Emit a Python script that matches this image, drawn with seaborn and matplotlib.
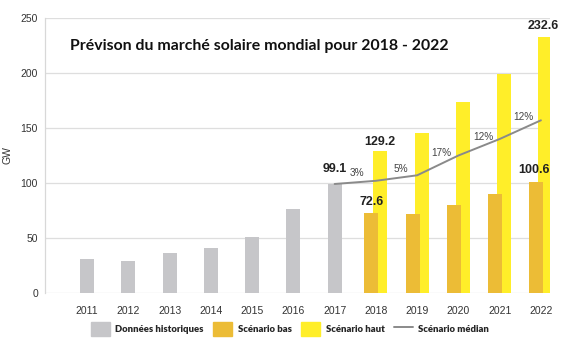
import numpy as np
import pandas as pd
import matplotlib
matplotlib.use("Agg")
import matplotlib.pyplot as plt
import seaborn as sns
from matplotlib.patches import Patch
from matplotlib.lines import Line2D

# ---- data ----
hist_years = [2011, 2012, 2013, 2014, 2015, 2016, 2017]
hist_values = [31, 29, 36.5, 41, 51, 76, 99.1]
fc_years = [2018, 2019, 2020, 2021, 2022]
low_values = [72.6, 72, 80, 90, 100.6]
high_values = [129.2, 145.5, 174, 199, 232.6]
med_years = [2017, 2018, 2019, 2020, 2021, 2022]
med_values = [99.1, 102, 107, 125, 140, 157]
growth_labels = ["3%", "5%", "17%", "12%", "12%"]
growth_y = [109, 113, 127, 142, 160]
all_years = hist_years + fc_years
title = "Prévison du marché solaire mondial pour 2018 - 2022"
legend_labels = ["Données historiques", "Scénario bas", "Scénario haut", "Scénario médian"]

c_gray = "#C6C6C9"
c_low = "#ECBC36"
c_high = "#FFEE29"
c_line = "#8A8A8A"

sns.set_theme(style="white")
plt.rcParams["font.family"] = ["Liberation Sans", "DejaVu Sans"]

fig = plt.figure(figsize=(5.8, 3.49), dpi=100)
ax = fig.add_axes([45/580, 1-293/349, 505/580, 275/349])

off = 0.11
w = 0.34
hist_df = pd.DataFrame({"year": hist_years, "v": hist_values})
high_df = pd.DataFrame({"x": np.array(fc_years) + off, "v": high_values})
low_df = pd.DataFrame({"x": np.array(fc_years) - off, "v": low_values})
med_df = pd.DataFrame({"year": med_years, "v": med_values})

bar_kw = dict(native_scale=True, width=w, saturation=1, ax=ax, linewidth=0, edgecolor="none")
sns.barplot(data=hist_df, x="year", y="v", color=c_gray, zorder=3, **bar_kw)
sns.barplot(data=high_df, x="x", y="v", color=c_high, zorder=3, **bar_kw)
sns.barplot(data=low_df, x="x", y="v", color=c_low, zorder=4, **bar_kw)
sns.lineplot(data=med_df, x="year", y="v", color=c_line, lw=1.4, ax=ax, zorder=5)

ax.set_xlim(2011 - 1.02, 2022.22)
ax.set_ylim(0, 250)
ax.set_xticks(all_years)
ax.set_xticklabels([str(y) for y in all_years], fontsize=7.5, color="#333333")
ax.set_yticks([0, 50, 100, 150, 200, 250])
ax.set_yticklabels(["0", "50", "100", "150", "200", "250"], fontsize=7.5, color="#333333")
ax.tick_params(axis="x", length=0, pad=9)
ax.tick_params(axis="y", length=0, pad=5)
ax.set_xlabel("")
ax.set_ylabel("GW", fontsize=7.5, color="#333333", labelpad=6)
ax.grid(axis="y", color="#DEDEDE", lw=0.9, zorder=0)
for s in ["top", "right", "bottom"]:
    ax.spines[s].set_visible(False)
ax.spines["left"].set_color("#D8D8D8")
ax.spines["left"].set_linewidth(0.9)

# value labels
bold = dict(fontsize=9, fontweight="bold", color="#222222", ha="center", va="bottom")
ax.text(2017.0, 107, "99.1", **bold)
ax.text(2018.1, 132, "129.2", **bold)
ax.text(2017.9, 77, "72.6", **bold)
ax.text(2021.83, 106, "100.6", **bold)
ax.text(2022.05, 237, "232.6", **bold)

growth_x = [2017.53, 2018.6, 2019.58, 2020.6, 2021.58]
for lab, gx, gy in zip(growth_labels, growth_x, growth_y):
    ax.text(gx, gy, lab, fontsize=7.2, color="#444444", ha="center", va="center")

ax.text(0.424, 0.898, title, transform=ax.transAxes, fontsize=11.4, fontweight="bold",
        family=["Lato", "DejaVu Sans"], color="#111111", ha="center", va="center")

handles = [Patch(color=c_gray), Patch(color=c_low), Patch(color=c_high),
           Line2D([0], [0], color=c_line, lw=1.4)]
leg = fig.legend(handles, legend_labels, loc="center", bbox_to_anchor=(290/580, 1-329/349),
                 ncol=4, frameon=False, handlelength=2.0, handleheight=2.0, handletextpad=0.6,
                 columnspacing=1.0, prop={"family": ["Lato", "DejaVu Sans"], "weight": "heavy", "size": 6.8})

fig.savefig("out.png", dpi=100)
